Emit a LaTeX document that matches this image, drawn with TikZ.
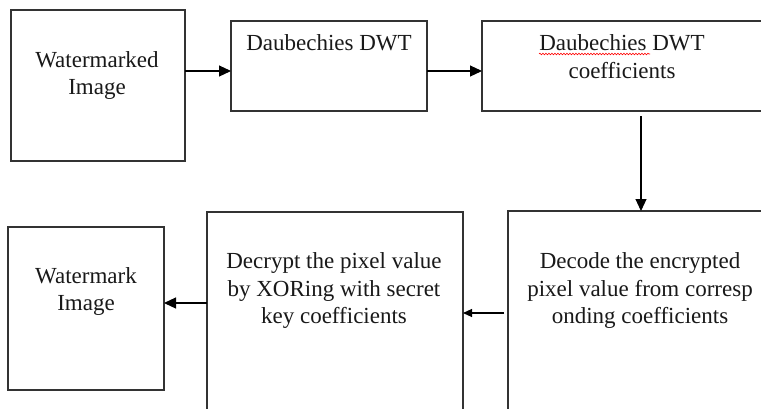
\documentclass[tikz,border=0pt]{standalone}
\usepackage{fontspec}
\setmainfont{Liberation Serif}
\usetikzlibrary{arrows.meta,decorations.pathmorphing}
\tikzset{
  box/.style={draw=black!80, line width=1.2pt, rectangle, anchor=north west, inner sep=0pt, outer sep=0pt},
  txt/.style={anchor=base, inner sep=0pt, font=\fontsize{23}{27}\selectfont, text=black!90},
  arr/.style={draw=black, line width=1.1pt, -{Triangle[length=12pt,width=11pt]}},
  arrs/.style={draw=black, line width=1.1pt, -{Triangle[length=9pt,width=8pt]}},
}
\begin{document}
\begin{tikzpicture}[x=1pt,y=-1pt]
\useasboundingbox (0,0) rectangle (761,408);
\clip (0,0) rectangle (761,408);
\fill[white] (0,0) rectangle (761,408);
% boxes
\node[box, minimum width=174pt, minimum height=151pt] (b1) at (11,10) {};
\node[box, minimum width=196pt, minimum height=90pt] (b2) at (231,21) {};
\node[box, minimum width=300pt, minimum height=90pt] (b3) at (482,21) {};
\node[box, minimum width=300pt, minimum height=250pt] (b4) at (508,211) {};
\node[box, minimum width=256pt, minimum height=250pt] (b5) at (207,212) {};
\node[box, minimum width=156pt, minimum height=163pt] (b6) at (8,227) {};
% texts
\node[txt] (t1a) at (97,67) {Watermarked};
\node[txt] (t1b) at (97,94) {Image};
\node[txt] (t2a) at (329,50) {Daubechies DWT};
\node[txt] (t3a) at (622,50) {Daubechies DWT};
\node[txt] (t3b) at (622,78) {coefficients};
\node[txt] (t4a) at (640,268) {Decode the encrypted};
\node[txt] (t4b) at (640,296) {pixel value from corresp};
\node[txt] (t4c) at (640,323) {onding coefficients};
\node[txt] (t5a) at (334,268) {Decrypt the pixel value};
\node[txt] (t5b) at (334,296) {by XORing with secret};
\node[txt] (t5c) at (334,323) {key coefficients};
\node[txt] (t6a) at (86,283) {Watermark};
\node[txt] (t6b) at (86,310) {Image};
% spell-check underline
\coordinate (u1) at (539,54);
\coordinate (u2) at (650,54);
\draw[red, line width=0.6pt, decorate, decoration={snake, amplitude=0.8pt, segment length=3pt}] (u1) -- (u2);
% connectors
\draw[arr] (b1.east |- 0,71) -- (b2.west |- 0,71);
\draw[arr] (b2.east |- 0,71) -- (b3.west |- 0,71);
\coordinate (d1) at (641,116);
\draw[arr] (d1) -- (d1 |- b4.north);
\coordinate (c4) at (504,313);
\draw[arrs] (c4) -- (b5.east |- c4);
\draw[arr] (b5.west |- 0,303) -- (b6.east |- 0,303);
\end{tikzpicture}
\end{document}
